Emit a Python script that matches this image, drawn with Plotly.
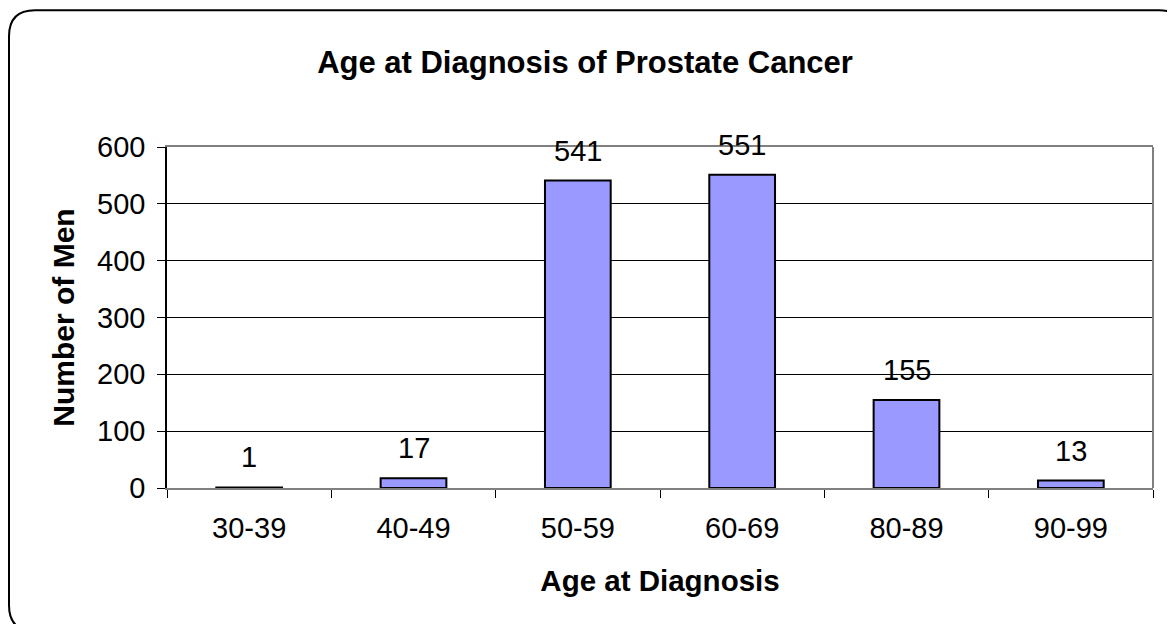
import plotly.graph_objects as go

categories = ["30-39", "40-49", "50-59", "60-69", "80-89", "90-99"]
counts = [1, 17, 541, 551, 155, 13]
y_ticks = [0, 100, 200, 300, 400, 500, 600]

# page has an 8px body margin; figure coordinates are offset by it
OFF = 8
W, H = 1175 - OFF, 624 - OFF
L, R, T, B = 167 - OFF, 1153 - OFF, 147 - OFF, 488.5 - OFF
FONT = "Liberation Sans, Arial, sans-serif"


def px(x):
    return (x - OFF - L) / (R - L)


def py(y):
    return (B - (y - OFF)) / (B - T)


fig = go.Figure()
fig.add_trace(go.Bar(
    x=categories, y=counts,
    marker=dict(color="#9999FF", line=dict(color="black", width=2)),
    hoverinfo="x+y",
))

for c, v in zip(categories, counts):
    fig.add_annotation(x=c, y=v, text=str(v), showarrow=False,
                       yanchor="bottom", yshift=12,
                       font=dict(family=FONT, size=29, color="black"))

# rounded outer chart border (page pixel coords)
x0, y0, x1, y1, r = 9, 10, 1185, 632, 26
path = (f"M {px(x0)},{py(y0 + r)} "
        f"Q {px(x0)},{py(y0)} {px(x0 + r)},{py(y0)} "
        f"L {px(x1 - r)},{py(y0)} "
        f"Q {px(x1)},{py(y0)} {px(x1)},{py(y0 + r)} "
        f"L {px(x1)},{py(y1 - r)} "
        f"Q {px(x1)},{py(y1)} {px(x1 - r)},{py(y1)} "
        f"L {px(x0 + r)},{py(y1)} "
        f"Q {px(x0)},{py(y1)} {px(x0)},{py(y1 - r)} Z")
fig.add_shape(type="path", path=path, xref="paper", yref="paper",
              line=dict(color="black", width=2), layer="below")
# right border of plot area
fig.add_shape(type="line", xref="paper", yref="paper", x0=1, x1=1, y0=0, y1=1,
              line=dict(color="#808080", width=2))

fig.update_layout(
    width=W, height=H,
    margin=dict(l=L, r=W - R, t=T, b=H - B),
    paper_bgcolor="white", plot_bgcolor="white",
    bargap=0.6,
    showlegend=False,
    font=dict(family=FONT, color="black"),
    title=dict(text="<b>Age at Diagnosis of Prostate Cancer</b>",
               x=(585 - OFF) / W, xref="container", xanchor="center",
               y=1 - (62 - OFF) / H, yref="container", yanchor="middle",
               font=dict(family=FONT, size=31, color="black")),
    xaxis=dict(
        type="category",
        showline=True, linecolor="#808080", linewidth=2, mirror=True,
        ticks="outside", ticklen=8, tickcolor="black", tickwidth=1,
        tickson="boundaries",
        tickfont=dict(family=FONT, size=29, color="black"),
        ticklabelstandoff=13,
        showgrid=False,
        title=dict(text="<b>Age at Diagnosis</b>", standoff=28,
                   font=dict(family=FONT, size=29.5, color="black")),
    ),
    yaxis=dict(
        range=[0, 600], tickvals=y_ticks,
        showline=True, linecolor="black", linewidth=1.5,
        ticks="outside", ticklen=8, tickcolor="black", tickwidth=1,
        tickfont=dict(family=FONT, size=29, color="black"),
        ticklabelstandoff=6,
        showgrid=True, gridcolor="black", gridwidth=1,
        zeroline=False,
        title=dict(text="<b>Number of Men</b>", standoff=14,
                   font=dict(family=FONT, size=30, color="black")),
    ),
)

fig.write_html("out.html")
